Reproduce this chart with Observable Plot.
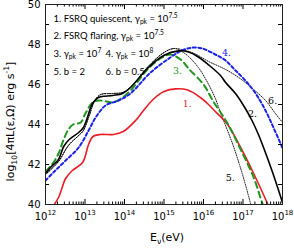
<!DOCTYPE html>
<html><head><meta charset="utf-8">
<script src="https://cdn.jsdelivr.net/npm/d3@7"></script>
<script src="https://cdn.jsdelivr.net/npm/@observablehq/plot@0.6"></script>
<style>html,body{margin:0;padding:0;background:#fff;}</style>
</head><body><div id="chart"></div>
<script>
// ---- data (log10 E in eV, log10 luminosity) ----
const c1LogE = [12.15,12.33,12.51,12.68,12.94,13.09,13.2,13.39,13.72,13.97,14.28,14.5,14.75,15.0,15.3,15.6,15.92,16.1,16.25,16.61,16.94,17.27,17.62,17.72];
const c1LogL = [39.8,40.35,41.3,41.7,42.1,43.0,43.4,43.5,43.5,43.65,44.2,44.75,45.3,45.65,45.78,45.72,45.35,45.05,44.75,44.0,42.85,41.55,40.05,39.6];

const c2LogE = [12.0,12.15,12.33,12.46,12.6,12.84,12.96,13.06,13.19,13.34,13.7,13.95,14.15,14.58,14.99,15.37,15.62,15.85,16.18,16.43,16.56,16.81,17.06,17.24,17.39,17.52,17.75,18.0];
const c2LogL = [41.55,41.9,42.25,42.9,43.25,43.6,43.85,44.35,45.05,45.35,45.45,45.55,45.85,46.8,47.45,47.68,47.62,47.4,46.9,46.45,46.1,45.55,44.8,44.15,43.5,42.85,41.6,40.1];

const c3LogE = [12.0,12.2,12.33,12.45,12.58,12.7,12.89,13.01,13.19,13.34,13.55,13.7,13.95,14.2,14.58,14.95,15.16,15.45,15.62,16.0,16.25,16.61,16.94,17.27,17.5,17.6];
const c3LogL = [41.65,42.1,42.55,43.2,43.75,44.0,44.1,44.55,45.1,45.2,45.15,45.1,45.35,45.8,46.75,47.35,47.5,47.2,46.8,46.0,45.15,44.05,42.75,41.35,40.0,39.5];

const c4LogE = [12.0,12.25,12.51,12.84,13.09,13.27,13.52,13.85,14.15,14.66,15.16,15.45,15.75,15.97,16.3,16.56,16.81,17.06,17.32,17.57,17.77,17.95,18.0];
const c4LogL = [41.2,41.7,42.2,42.85,43.7,44.35,44.95,45.2,45.55,46.6,47.35,47.7,47.85,47.8,47.5,47.2,46.7,46.2,45.55,44.7,43.85,43.05,42.8];

const c5LogE = [12.0,12.33,12.58,12.84,12.96,13.1,13.25,13.4,13.7,13.95,14.2,14.6,15.0,15.25,15.45,15.62,15.87,16.13,16.3,16.43,16.76,17.01,17.2,17.25];
const c5LogL = [41.5,42.15,42.95,43.45,43.7,44.4,45.2,45.5,45.55,45.6,45.95,46.9,47.6,47.8,47.65,47.4,46.85,46.0,45.3,44.6,42.9,41.35,40.0,39.7];

const c6LogE = [12.0,12.33,12.58,12.84,12.96,13.1,13.25,13.4,13.7,13.95,14.2,14.6,15.0,15.25,15.5,15.77,16.13,16.56,16.89,17.24,17.57,17.82,18.0];
const c6LogL = [41.5,42.15,42.95,43.45,43.7,44.4,45.2,45.5,45.55,45.6,45.95,46.9,47.6,47.8,47.72,47.55,47.15,46.75,46.35,45.8,45.2,44.55,44.1];

const xTickExponents = [12,13,14,15,16,17,18];
const yTickValues = [40,41,42,43,44,45,46,47,48,49,50];
const yLabelValues = [40,42,44,46,48,50];

const legendItems = ["1. FSRQ quiescent, γ_{pk} = 10^{7.5}", "2. FSRQ flaring, γ_{pk} = 10^{7.5}", "3. γ_{pk} = 10^{7}", "4. γ_{pk} = 10^{8}", "5. b = 2", "6. b = 0.5"];
const curveLabels = ["1.", "2.", "3.", "4.", "5.", "6."];
const curveLabelLogE = [15.59, 17.24, 15.34, 16.58, 16.68, 17.75];
const curveLabelLogL = [45.05, 44.55, 46.7, 47.6, 41.35, 45.2];

const xLabel = "E_{ν}(eV)";
const yLabel = "log_{10}[4πL(ε,Ω) erg s^{-1}]";

// ---- layout / style ----
const W = 294, H = 249, mL = 45, mR = 12, mT = 4, mB = 45;
const yMin = 40, yMax = 50;
const plotH = H - mT - mB, plotW = W - mL - mR;
const yPerPx = (yMax - yMin) / plotH;
const decPerPx = (xTickExponents[xTickExponents.length-1] - xTickExponents[0]) / plotW;
const xMin = 10 ** xTickExponents[0], xMax = 10 ** xTickExponents[xTickExponents.length-1];

const series = (le, ll) => le.map((e, i) => ({E: 10 ** e, L: ll[i]}));
const majorX = xTickExponents.map(e => 10 ** e);
const minorX = [];
for (const e of xTickExponents.slice(0, -1)) for (let k = 2; k <= 9; k++) minorX.push(k * 10 ** e);

const RED = "#ec1c24", BLACK = "#000", GREEN = "#1f961f", BLUE = "#1b22e8";
const labelColors = [RED, BLACK, GREEN, BLUE, BLACK, BLACK];
const legendPos = [[8,14],[8,31],[8,49],[60,49],[8,67],[60,67]];

const lineOpts = {x: "E", y: "L", curve: "catmull-rom", clip: true};

const plot = Plot.plot({
  width: W, height: H,
  marginLeft: mL, marginRight: mR, marginTop: mT, marginBottom: mB,
  style: {fontFamily: "DejaVu Sans", fontSize: "10px", background: "#fff", color: "#000"},
  x: {type: "log", domain: [xMin, xMax]},
  y: {domain: [yMin, yMax]},
  marks: [
    Plot.line(series(c5LogE, c5LogL), {...lineOpts, stroke: BLACK, strokeWidth: 0.9, strokeDasharray: "1,1.4"}),
    Plot.line(series(c6LogE, c6LogL), {...lineOpts, stroke: BLACK, strokeWidth: 0.9, strokeDasharray: "1,1.4"}),
    Plot.line(series(c1LogE, c1LogL), {...lineOpts, stroke: RED, strokeWidth: 1.6}),
    Plot.line(series(c3LogE, c3LogL), {...lineOpts, stroke: GREEN, strokeWidth: 2, strokeDasharray: "6,4"}),
    Plot.line(series(c4LogE, c4LogL), {...lineOpts, stroke: BLUE, strokeWidth: 2, strokeDasharray: "3,2.5"}),
    Plot.line(series(c2LogE, c2LogL), {...lineOpts, stroke: BLACK, strokeWidth: 1.6}),
    // inward ticks
    Plot.ruleX(majorX, {x: d => d, y1: yMin, y2: yMin + 5 * yPerPx, stroke: "#000"}),
    Plot.ruleX(majorX, {x: d => d, y1: yMax, y2: yMax - 5 * yPerPx, stroke: "#000"}),
    Plot.ruleX(minorX, {x: d => d, y1: yMin, y2: yMin + 2.5 * yPerPx, stroke: "#000"}),
    Plot.ruleX(minorX, {x: d => d, y1: yMax, y2: yMax - 2.5 * yPerPx, stroke: "#000"}),
    Plot.ruleY(yTickValues, {y: d => d, x1: xMin, x2: 10 ** (Math.log10(xMin) + 4 * decPerPx), stroke: "#000"}),
    Plot.ruleY(yTickValues, {y: d => d, x1: xMax, x2: 10 ** (Math.log10(xMax) - 4 * decPerPx), stroke: "#000"}),
    Plot.frame({stroke: "#222"}),
    Plot.axisX({ticks: majorX, tickSize: 0, tickPadding: 8, fontSize: 10, tickFormat: d => `10^{${Math.round(Math.log10(d))}}`, label: null}),
    Plot.axisY({ticks: yLabelValues, tickSize: 0, tickPadding: 5, fontSize: 10, label: null}),
    Plot.text([xLabel], {frameAnchor: "bottom", dx: 3, dy: 33, fontSize: 11, lineAnchor: "middle"}),
    Plot.text([yLabel], {frameAnchor: "left", rotate: -90, dx: -35, dy: 17, fontSize: 11, lineAnchor: "middle", textAnchor: "middle"}),
    ...legendItems.map((t, i) => Plot.text([t], {frameAnchor: "top-left", textAnchor: "start", lineAnchor: "middle", dx: legendPos[i][0], dy: legendPos[i][1], fontFamily: "Lato", fontSize: 9.5})),
    ...curveLabels.map((t, i) => Plot.text([t], {x: () => 10 ** curveLabelLogE[i], y: () => curveLabelLogL[i], fill: labelColors[i], fontFamily: "DejaVu Serif", fontSize: 9.5}))
  ]
});
document.getElementById("chart").appendChild(plot);

// rich text: _{sub} and ^{sup}
function richify(svg) {
  svg.querySelectorAll("text").forEach(el => {
    if (el.querySelector("tspan")) return;
    const s = el.textContent;
    if (!/[_^]\{/.test(s)) return;
    const fs = parseFloat(getComputedStyle(el).fontSize) || 10;
    el.textContent = "";
    const re = /([_^])\{([^}]*)\}/g;
    let last = 0, shift = 0, m;
    const add = (txt, kind) => {
      if (!txt) return;
      const t = document.createElementNS("http://www.w3.org/2000/svg", "tspan");
      const target = kind === "_" ? 0.3 * fs : kind === "^" ? -0.42 * fs : 0;
      if (target !== shift) t.setAttribute("dy", (target - shift).toFixed(2));
      shift = target;
      if (kind) t.setAttribute("font-size", (0.7 * fs).toFixed(2));
      t.textContent = txt;
      el.appendChild(t);
    };
    while ((m = re.exec(s))) { add(s.slice(last, m.index), null); add(m[2], m[1]); last = re.lastIndex; }
    add(s.slice(last), null);
  });
}
richify(plot);
</script>
</body></html>
